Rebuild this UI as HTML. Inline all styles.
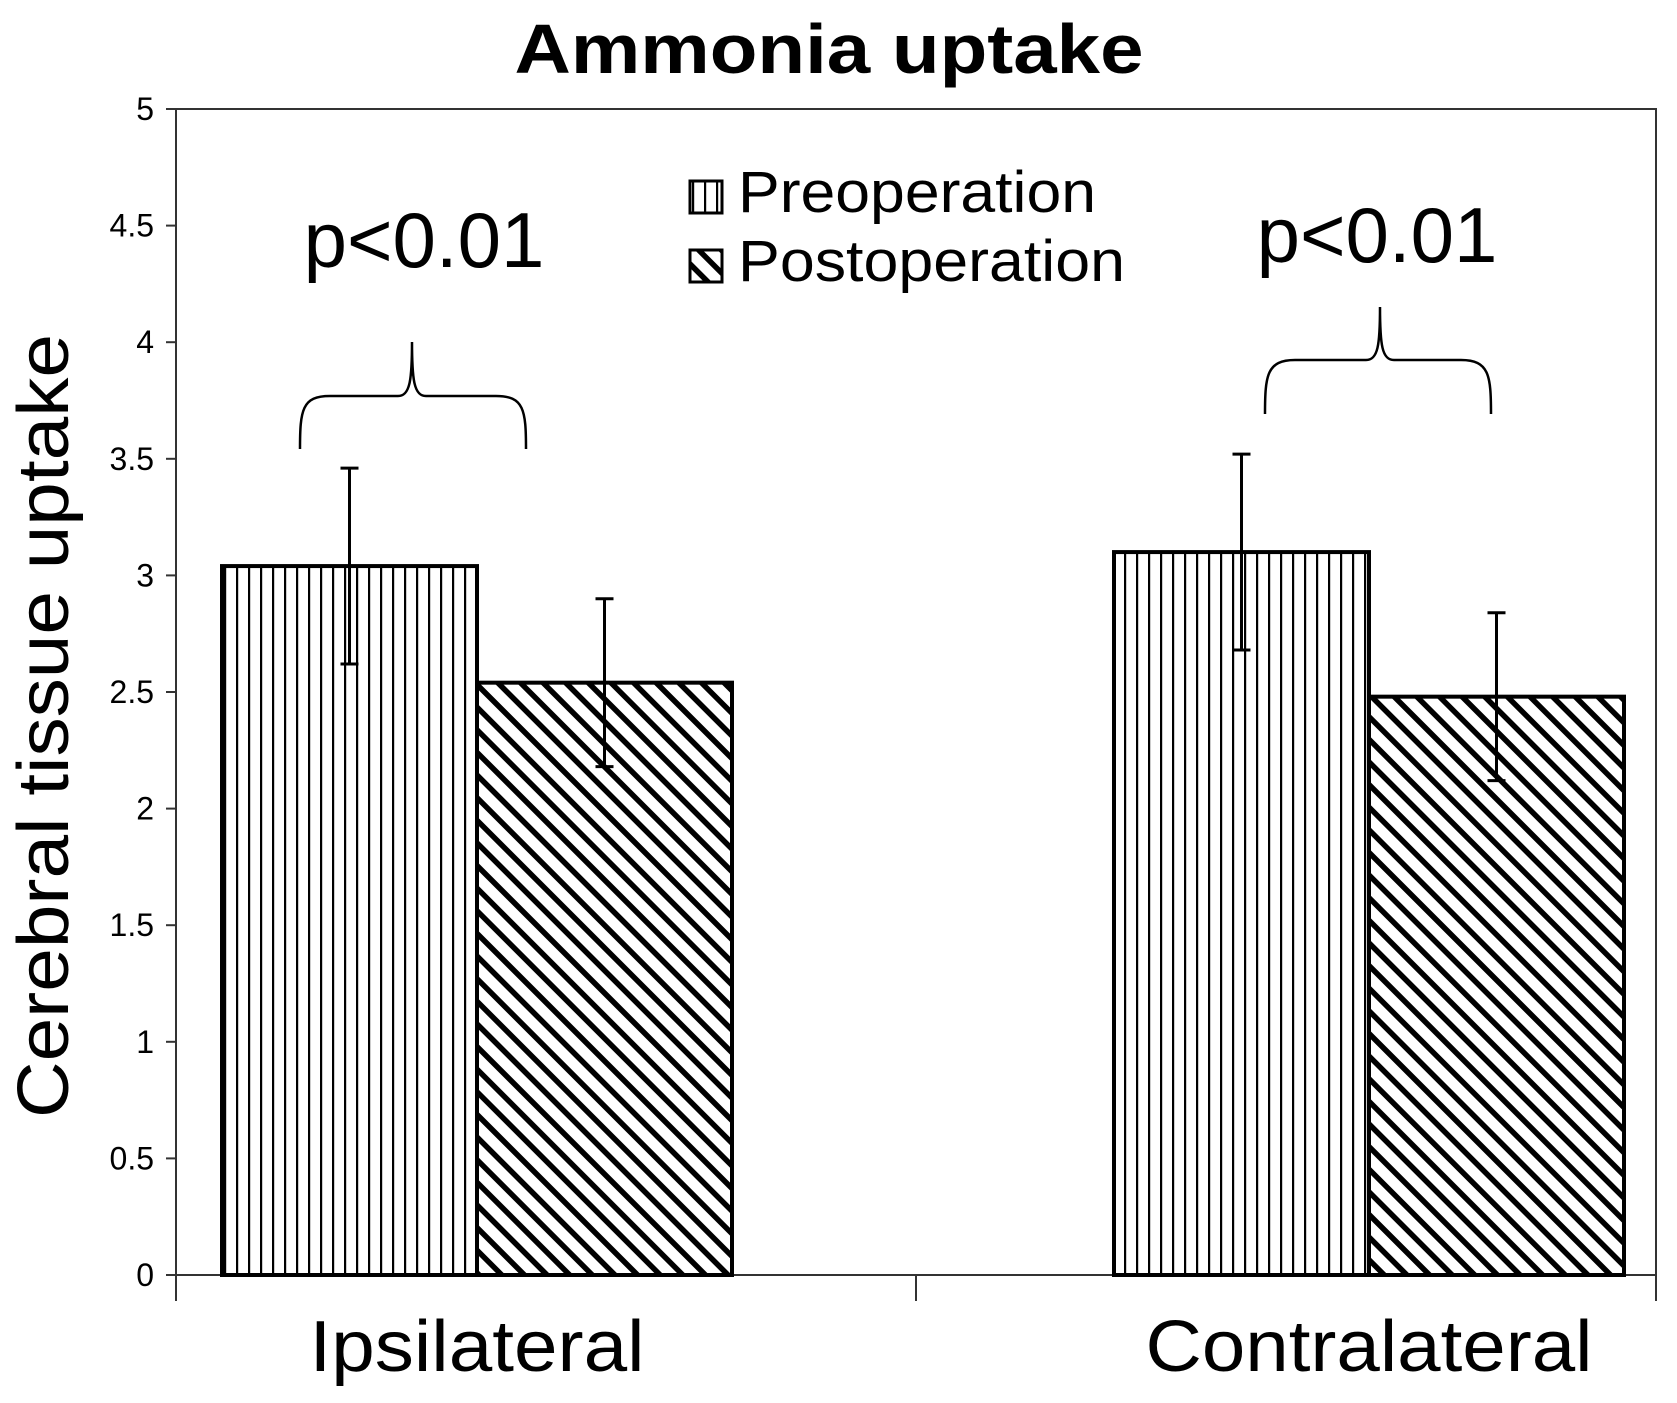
<!DOCTYPE html>
<html><head><meta charset="utf-8"><style>
html,body{margin:0;padding:0;background:#fff;}
svg{display:block;font-family:"Liberation Sans",sans-serif;}
</style></head><body>
<svg id="chart" width="1677" height="1403" viewBox="0 0 1677 1403">
<defs>
<pattern id="vert" patternUnits="userSpaceOnUse" width="12" height="12" x="221"><rect x="3" y="0" width="2.2" height="12" fill="#000"/></pattern>
<pattern id="diag" patternUnits="userSpaceOnUse" width="16" height="16" patternTransform="rotate(45)"><rect x="0" y="0" width="16" height="5.5" fill="#000"/></pattern>
</defs>
<text x="829" y="73" text-anchor="middle" font-size="70" font-weight="bold" textLength="629" lengthAdjust="spacingAndGlyphs">Ammonia uptake</text>
<g id="axes"></g>
<g id="bars"></g>
<g>
<rect x="690" y="181" width="32" height="32" fill="url(#vert)" stroke="#000" stroke-width="3"/>
<text x="738" y="212" font-size="58" textLength="358" lengthAdjust="spacingAndGlyphs">Preoperation</text>
<rect x="690" y="250" width="32" height="32" fill="url(#diag)" stroke="#000" stroke-width="3"/>
<text x="738" y="281" font-size="58" textLength="387" lengthAdjust="spacingAndGlyphs">Postoperation</text>
</g>
<text x="424" y="267" text-anchor="middle" font-size="78">p&lt;0.01</text>
<text x="1377" y="262" text-anchor="middle" font-size="78">p&lt;0.01</text>
<path d="M300,449 C300,410 302,396 330,396 L398,396 C410,396 412,380 412,342 C412,380 414,396 426,396 L496,396 C524,396 526,410 526,449" fill="none" stroke="#000" stroke-width="2.5"/>
<path d="M1265,414 C1265,375 1267,360 1295,360 L1366,360 C1378,360 1380,345 1380,307 C1380,345 1382,360 1394,360 L1461,360 C1489,360 1491,375 1491,414" fill="none" stroke="#000" stroke-width="2.5"/>
<text transform="translate(68,726) rotate(-90)" text-anchor="middle" font-size="72" textLength="784" lengthAdjust="spacingAndGlyphs">Cerebral tissue uptake</text>
</svg>
<script>
const categories = ["Ipsilateral", "Contralateral"];
const preValues = [3.04, 3.10];
const postValues = [2.54, 2.48];
const preErr = [0.42, 0.42];
const postErr = [0.36, 0.36];
const yTicks = [0, 0.5, 1, 1.5, 2, 2.5, 3, 3.5, 4, 4.5, 5];
const yTickLabels = ["0","0.5","1","1.5","2","2.5","3","3.5","4","4.5","5"];
const catLabelLengths = [335, 447];

const NS = "http://www.w3.org/2000/svg";
const X0 = 176, X1 = 1656, Y0 = 1275, Y1 = 109;
const yScale = v => Y0 - (v / 5) * (Y0 - Y1);
const catW = (X1 - X0) / categories.length;
const barW = 255;
function mk(tag, attrs, parent) {
  const e = document.createElementNS(NS, tag);
  for (const k in attrs) e.setAttribute(k, attrs[k]);
  parent.appendChild(e);
  return e;
}
const axes = document.getElementById('axes');
const bars = document.getElementById('bars');
let e;
e = mk('path', {d:`M${X0},${Y1} H${X1} V${Y0} H${X0} Z`, fill:'none', stroke:'#333', 'stroke-width':2}, axes);


yTicks.forEach((t, i) => {
  const y = yScale(t);
  let l = mk('line', {x1:X0-10, x2:X0, y1:y, y2:y, stroke:'#333', 'stroke-width':2}, axes);
  
  
  let tx = mk('text', {x:X0-22, y:y+11, 'text-anchor':'end', 'font-size':32}, axes);
  tx.textContent = yTickLabels[i];
  
  
});
for (let i = 0; i <= categories.length; i++) {
  const x = X0 + catW * i;
  let l = mk('line', {x1:x, x2:x, y1:Y0, y2:Y0+26, stroke:'#333', 'stroke-width':2}, axes);
  
  
}
categories.forEach((c, i) => {
  const cxBar = X0 + catW * i + (i === 0 ? 301 : 453);
  let tx = mk('text', {x:cxBar, y:1371, 'text-anchor':'middle', 'font-size':72, textLength:catLabelLengths[i], lengthAdjust:'spacingAndGlyphs'}, axes);
  tx.textContent = c;
  
  
  const vals = [[preValues[i], preErr[i], 'url(#vert)', 'pre'], [postValues[i], postErr[i], 'url(#diag)', 'post']];
  vals.forEach((v, j) => {
    const x = cxBar - barW + j * barW;
    const y = yScale(v[0]);
    let r = mk('rect', {x:x, y:y, width:barW, height:Y0 - y, fill:v[2], stroke:'#000', 'stroke-width':4}, bars);
    
    
    const ex = x + barW / 2;
    const yt = yScale(v[0] + v[1]), yb = yScale(v[0] - v[1]);
    let p = mk('path', {d:`M${ex},${yt} V${yb} M${ex-9},${yt} H${ex+9} M${ex-9},${yb} H${ex+9}`, stroke:'#000', 'stroke-width':3, fill:'none'}, bars);
    
    
  });
});
</script>
</body></html>
